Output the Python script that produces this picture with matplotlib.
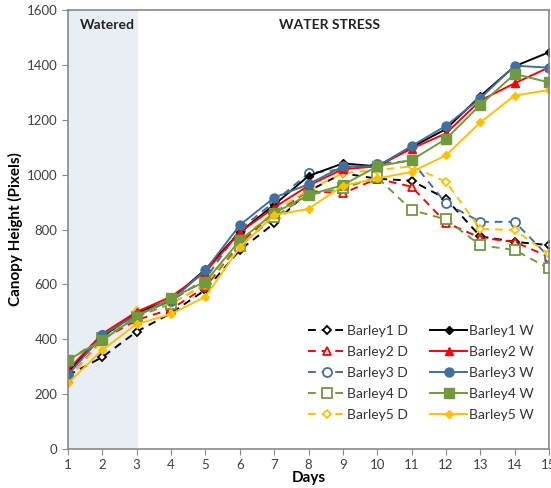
import matplotlib.pyplot as plt
import numpy as np

plt.rcParams['font.family'] = ['Lato', 'DejaVu Sans']

days = np.arange(1, 16)

# canopy height (pixels) for drought (D) and watered (W) plants
barley1_d = [268, 335, 428, 495, 580, 725, 822, 940, 1005, 985, 978, 912, 775, 755, 743]
barley2_d = [255, 400, 470, 510, 590, 750, 860, 940, 932, 985, 956, 825, 770, 755, 700]
barley3_d = [272, 415, 490, 540, 620, 800, 900, 1005, 1020, 1040, 1050, 895, 828, 828, 700]
barley4_d = [322, 405, 482, 530, 600, 740, 845, 926, 950, 990, 871, 837, 743, 725, 658]
barley5_d = [255, 395, 503, 530, 600, 760, 865, 944, 1005, 1017, 1030, 974, 802, 798, 710]

barley1_w = [282, 410, 495, 545, 655, 790, 890, 995, 1041, 1030, 1100, 1166, 1286, 1395, 1446]
barley2_w = [288, 420, 500, 555, 645, 790, 880, 960, 1020, 1030, 1095, 1150, 1270, 1333, 1391]
barley3_w = [270, 415, 490, 540, 652, 816, 916, 965, 1030, 1030, 1104, 1178, 1278, 1397, 1390]
barley4_w = [324, 397, 482, 550, 610, 760, 860, 926, 962, 1030, 1053, 1130, 1254, 1367, 1336]
barley5_w = [240, 361, 455, 492, 555, 735, 853, 875, 960, 986, 1010, 1070, 1190, 1288, 1308]

names = ['Barley1', 'Barley2', 'Barley3', 'Barley4', 'Barley5']
colors = ['#000000', '#ff0000', '#41709f', '#709a3e', '#ffc000']
markers = ['D', '^', 'o', 's', 'D']
sizes = [4.5, 6, 6.5, 6.5, 4.5]
drought = [barley1_d, barley2_d, barley3_d, barley4_d, barley5_d]
watered = [barley1_w, barley2_w, barley3_w, barley4_w, barley5_w]

fig = plt.figure(figsize=(5.51, 4.88), dpi=100)
ax = fig.add_axes([0.1234, 0.0799, 0.873, 0.8996])

ax.axvspan(1, 3, color='#e9edf4', zorder=0)

for name, c, m, s, d in zip(names, colors, markers, sizes, drought):
    ax.plot(days, d, ls=(0, (4, 3)), lw=1.4, color=c, marker=m, ms=s,
            mfc='white', mec=c, mew=1.3, label=name + ' D')
for name, c, m, s, w in zip(names, colors, markers, sizes, watered):
    ax.plot(days, w, ls='-', lw=1.4, color=c, marker=m, ms=s,
            mfc=c, mec=c, label=name + ' W')

ax.set_xlim(1, 15)
ax.set_ylim(0, 1600)
ax.set_xticks(days)
ax.set_yticks(range(0, 1601, 200))
ax.tick_params(colors='#888888', labelcolor='#404040', labelsize=9.5, length=4, direction='out')
ax.tick_params(axis='x', pad=3)
for sp in ax.spines.values():
    sp.set_color('#888888')
    sp.set_linewidth(1.2)

ax.set_xlabel('Days', fontsize=11, fontweight='bold', labelpad=0)
ax.set_ylabel('Canopy Height (Pixels)', fontsize=11, fontweight='bold', labelpad=3)

ax.text(1.35, 1545, 'Watered', fontsize=10, fontweight='bold', color='#222222', va='center')
ax.text(8.6, 1545, 'WATER STRESS', fontsize=10, fontweight='bold', color='#222222',
        va='center', ha='center')

ax.legend(ncol=2, loc='lower right', bbox_to_anchor=(0.995, 0.035), frameon=False,
          fontsize=10, handlelength=2.6, handletextpad=0.2, columnspacing=1.6,
          labelspacing=0.65, labelcolor='#333333')

fig.savefig('out.png', dpi=100)
